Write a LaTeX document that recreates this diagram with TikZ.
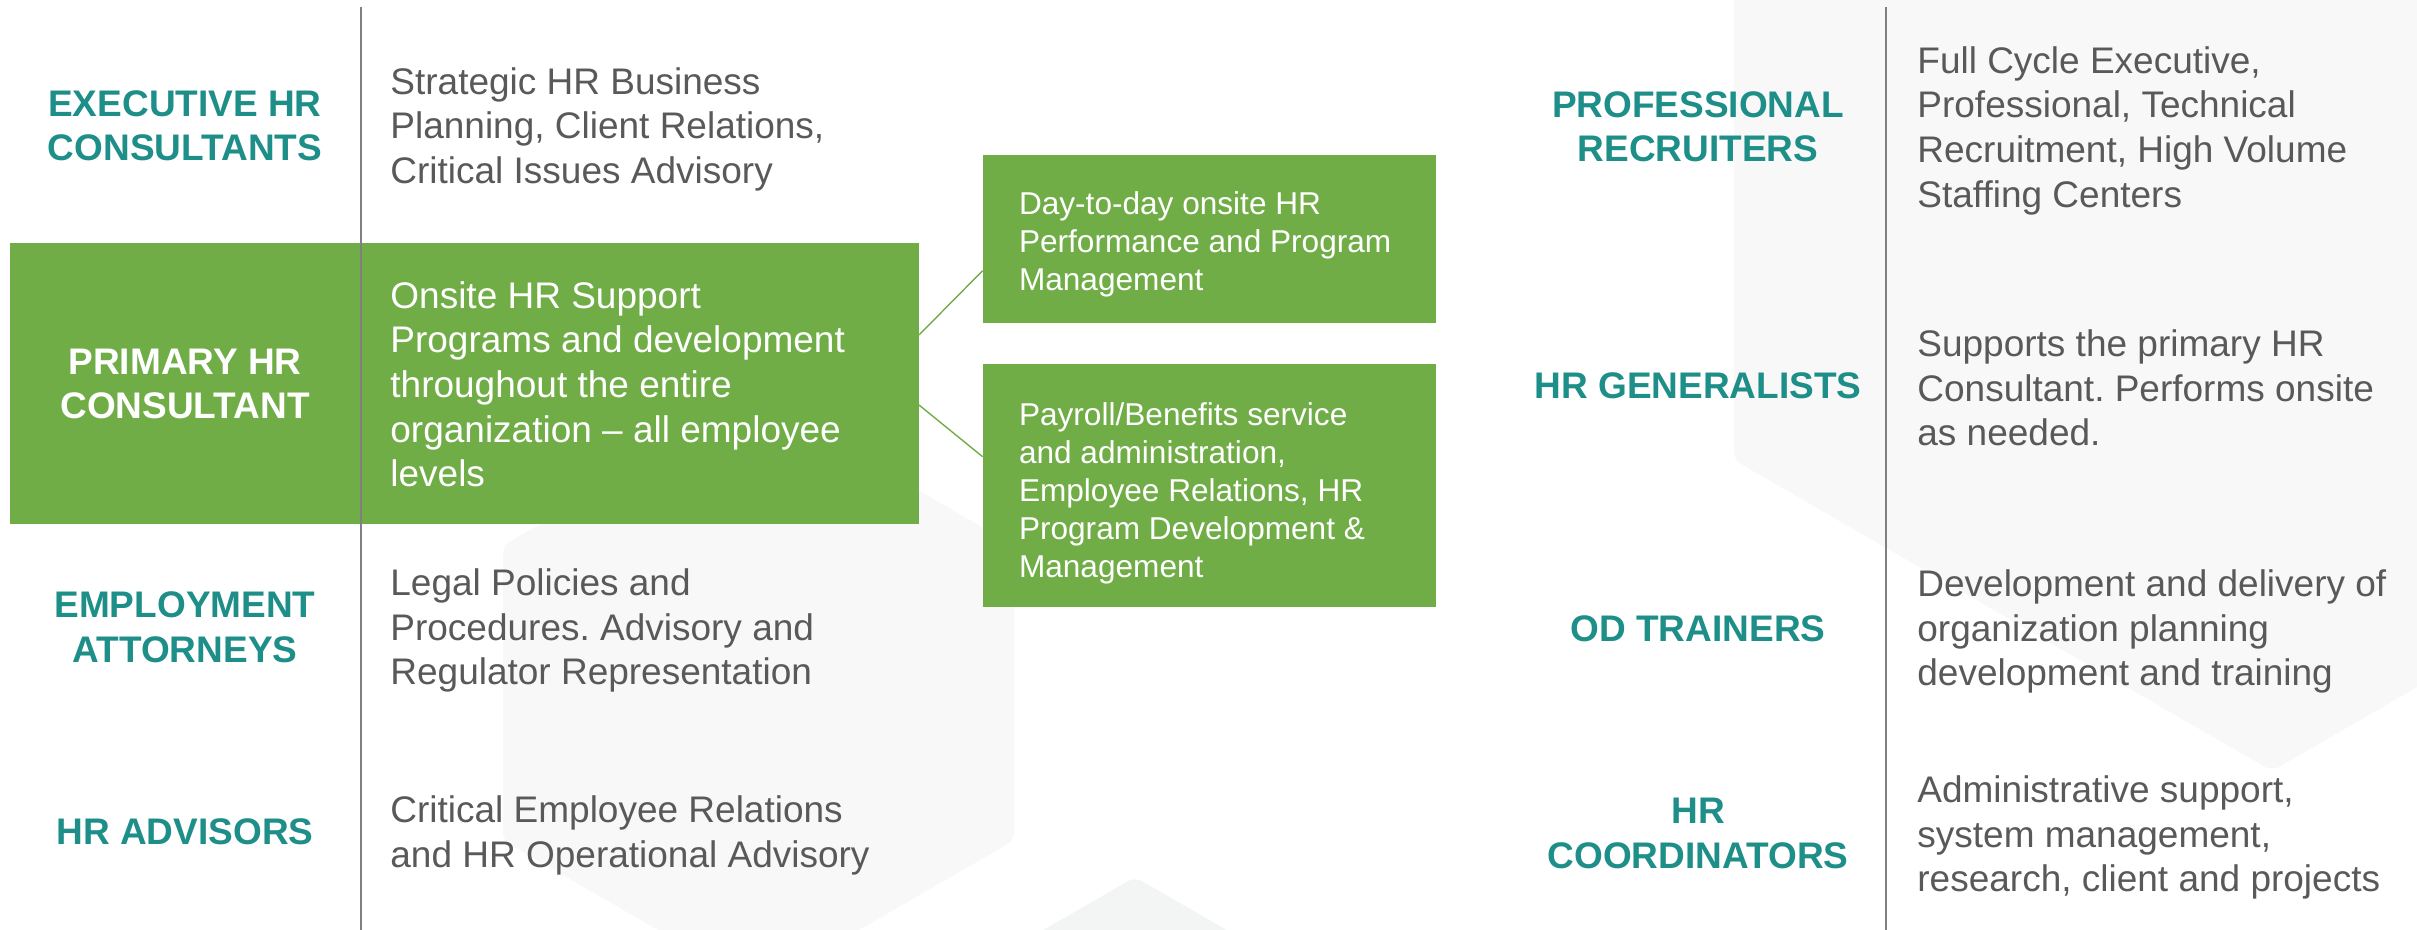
\documentclass[tikz,border=0pt]{standalone}
\usepackage{fontspec}
\setmainfont{Liberation Sans}
\usepackage{tikz}
\usetikzlibrary{positioning}
\frenchspacing
\definecolor{hrgreen}{HTML}{70AD47}
\definecolor{hrteal}{HTML}{1E8E89}
\definecolor{hrtext}{HTML}{595959}
\definecolor{hrrule}{HTML}{808080}
\definecolor{hexgray}{HTML}{F8F8F8}
\definecolor{hexgrayb}{HTML}{F3F5F4}
\tikzset{role/.style={font=\bfseries\fontsize{18.5}{22.3}\selectfont, text=hrteal, align=center, inner sep=0pt, anchor=north},
	duty/.style={font=\fontsize{18.5}{22.3}\selectfont, text=hrtext, align=left, inner sep=0pt, anchor=north west},
	boxtext/.style={font=\fontsize{15.8}{19}\selectfont, text=white, align=left, inner sep=0pt, anchor=north west},
	greenbox/.style={rectangle, fill=hrgreen, draw=none, inner sep=0pt},
	link/.style={draw=hrgreen, line width=0.7pt},
	divider/.style={draw=hrrule, line width=1pt},
	hex/.style={fill=hexgray, draw=none, rounded corners=4pt}}

\begin{document}
\begin{tikzpicture}[x=0.5pt, y=-0.5pt]
		\useasboundingbox (0,0) rectangle (2417,930);
		% background hexagons
		\begin{scope}
		\clip (0,0) rectangle (2417,930);
		\fill[hex] (758.5,398) -- (1014,545.5) -- (1014,840.5) -- (758.5,988) -- (503,840.5) -- (503,545.5) -- cycle;
		\fill[hex, fill=hexgrayb] (1135,877) -- (1390,1024.5) -- (1390,1319.5) -- (1135,1467) -- (880,1319.5) -- (880,1024.5) -- cycle;
		\fill[hex] (2272,-471) -- (2810,-161) -- (2810,460) -- (2272,771) -- (1734,460) -- (1734,-161) -- cycle;
		\end{scope}
		\node[greenbox, minimum width=454.3pt, minimum height=140.5pt] (primary) at (464.3,383.5) {};
		\node[greenbox, minimum width=226.5pt, minimum height=84pt] (dayBox) at (1209.5,239) {};
		\node[greenbox, minimum width=226.5pt, minimum height=121.5pt] (payBox) at (1209.5,485.5) {};
		\draw[link] ([yshift=24.25pt]primary.east) -- ([yshift=-15.85pt]dayBox.west);
		\draw[link] ([yshift=-10.75pt]primary.east) -- ([yshift=14.4pt]payBox.west);
		\coordinate (leftTop) at (360.5,7);
		\coordinate (leftEnd) at (360.5,930);
		\coordinate (rightTop) at (1886,7);
		\coordinate (rightEnd) at (1886,930);
		\draw[divider] (leftTop) -- (leftEnd);
		\draw[divider] (rightTop) -- (rightEnd);
		% left column
		\node[role] (exec) at (185,90) {EXECUTIVE HR\\CONSULTANTS};
		\node[role, text=white] (prim) at (185,348.5) {PRIMARY HR\\CONSULTANT};
		\node[role] (attor) at (185,591.5) {EMPLOYMENT\\ATTORNEYS};
		\node[role] (advis) at (185,818.5) {HR ADVISORS};
		\node[duty] (execDuty) at (390,67) {Strategic HR Business\\Planning, Client Relations,\\Critical Issues Advisory};
		\node[duty, text=white] (primDuty) at (390,281) {Onsite HR Support\\Programs and development\\throughout the entire\\organization – all employee\\levels};
		\node[duty] (attorDuty) at (390,568.5) {Legal Policies and\\Procedures. Advisory and\\Regulator Representation};
		\node[duty] (advisDuty) at (390,795.5) {Critical Employee Relations\\and HR Operational Advisory};
		% green boxes
		\node[boxtext] (dayText) at (1018.6,191.4) {Day-to-day onsite HR\\Performance and Program\\Management};
		\node[boxtext] (payText) at (1018.6,402.4) {Payroll/Benefits service\\and administration,\\Employee Relations, HR\\Program Development \&\\Management};
		% right column
		\node[role] (recr) at (1698,91) {PROFESSIONAL\\RECRUITERS};
		\node[role] (gene) at (1698,372) {HR GENERALISTS};
		\node[role] (train) at (1698,615) {OD TRAINERS};
		\node[role] (coord) at (1698,798) {HR\\COORDINATORS};
		\node[duty] (recrDuty) at (1917,46) {Full Cycle Executive,\\Professional, Technical\\Recruitment, High Volume\\Staffing Centers};
		\node[duty] (geneDuty) at (1917,329.5) {Supports the primary HR\\Consultant. Performs onsite\\as needed.};
		\node[duty] (trainDuty) at (1917,569.5) {Development and delivery of\\organization planning\\development and training};
		\node[duty] (coordDuty) at (1917,775.5) {Administrative support,\\system management,\\research, client and projects};
\end{tikzpicture}
\end{document}
